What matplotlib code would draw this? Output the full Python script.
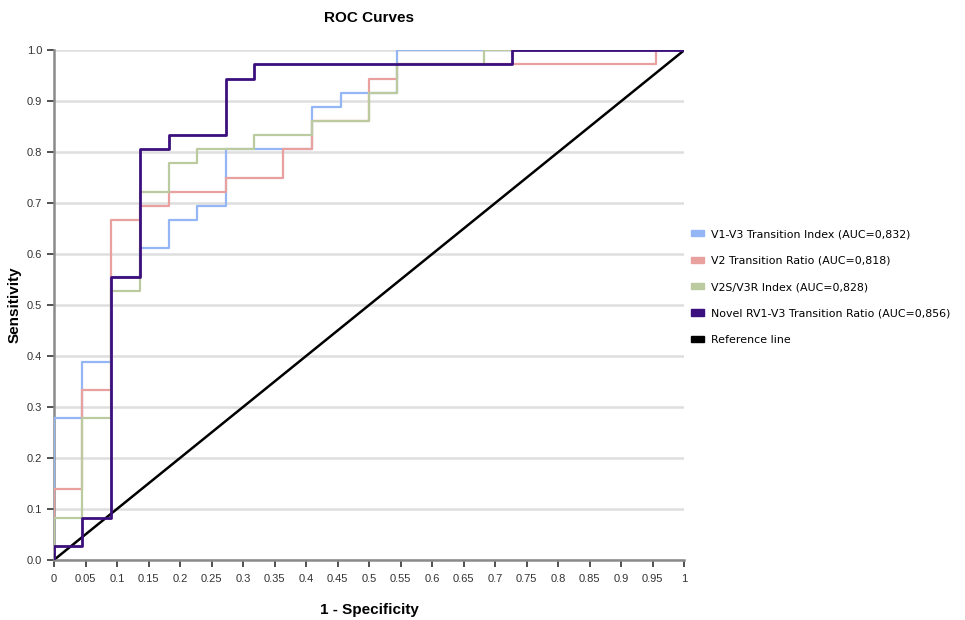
import matplotlib.pyplot as plt
from matplotlib.patches import Patch

plt.rcParams['font.family'] = ['Liberation Sans', 'DejaVu Sans']

# ROC staircase corners (1 - specificity, sensitivity)
v1v3_fpr = [0, 0, 0.045, 0.091, 0.136, 0.182, 0.227, 0.273, 0.409, 0.455, 0.545, 1.0]
v1v3_tpr = [0, 0.278, 0.389, 0.556, 0.611, 0.667, 0.694, 0.806, 0.889, 0.917, 1.0, 1.0]

v2_fpr = [0, 0, 0.045, 0.091, 0.136, 0.182, 0.273, 0.364, 0.409, 0.5, 0.545, 0.955, 1.0]
v2_tpr = [0, 0.139, 0.333, 0.667, 0.694, 0.722, 0.75, 0.806, 0.861, 0.944, 0.972, 1.0, 1.0]

v2s_fpr = [0, 0, 0.045, 0.091, 0.136, 0.182, 0.227, 0.318, 0.409, 0.5, 0.545, 0.682, 1.0]
v2s_tpr = [0, 0.083, 0.278, 0.528, 0.722, 0.778, 0.806, 0.833, 0.861, 0.917, 0.972, 1.0, 1.0]

rv1_fpr = [0, 0, 0.045, 0.091, 0.136, 0.182, 0.273, 0.318, 0.727, 1.0]
rv1_tpr = [0, 0.028, 0.083, 0.556, 0.806, 0.833, 0.944, 0.972, 1.0, 1.0]

labels = ["V1-V3 Transition Index (AUC=0,832)",
          "V2 Transition Ratio (AUC=0,818)",
          "V2S/V3R Index (AUC=0,828)",
          "Novel RV1-V3 Transition Ratio (AUC=0,856)",
          "Reference line"]
colors = ["#94b6f4", "#e9a19f", "#bccb9f", "#3b0f7d", "#000000"]

xticks = [i * 0.05 for i in range(21)]
xtick_labels = ["0", "0.05", "0.1", "0.15", "0.2", "0.25", "0.3", "0.35", "0.4", "0.45", "0.5",
                "0.55", "0.6", "0.65", "0.7", "0.75", "0.8", "0.85", "0.9", "0.95", "1"]
yticks = [i * 0.1 for i in range(11)]

fig = plt.figure(figsize=(9.65, 6.2), dpi=100)
ax = fig.add_axes([0.056, 0.097, 0.653, 0.822])

ax.plot(v1v3_fpr, v1v3_tpr, drawstyle='steps-post', color=colors[0], lw=1.6, zorder=3)
ax.plot(v2_fpr, v2_tpr, drawstyle='steps-post', color=colors[1], lw=1.6, zorder=3)
ax.plot(v2s_fpr, v2s_tpr, drawstyle='steps-post', color=colors[2], lw=1.6, zorder=3)
ax.plot(rv1_fpr, rv1_tpr, drawstyle='steps-post', color=colors[3], lw=2.0, zorder=4)
ax.plot([0, 1], [0, 1], color=colors[4], lw=1.8, zorder=2)

ax.set_xlim(0, 1)
ax.set_ylim(0, 1)
ax.set_xticks(xticks)
ax.set_xticklabels(xtick_labels)
ax.set_yticks(yticks)
ax.set_yticklabels([f"{v:.1f}" for v in yticks])
ax.tick_params(labelsize=8, colors='#333333', length=5, width=1.2, direction='out')
ax.tick_params(axis='x', pad=5)

ax.yaxis.grid(True, color='#dedede', lw=1.8)
ax.set_axisbelow(True)
for s in ['top', 'right']:
    ax.spines[s].set_visible(False)
for s in ['left', 'bottom']:
    ax.spines[s].set_color('#8a8a8a')
    ax.spines[s].set_linewidth(1.8)
    ax.spines[s].set_clip_on(False)

ax.set_title("ROC Curves", fontsize=11, fontweight='bold', pad=20)
ax.set_xlabel("1 - Specificity", fontsize=11, fontweight='bold', labelpad=14)
ax.set_ylabel("Sensitivity", fontsize=11, fontweight='bold', labelpad=4)

handles = [Patch(facecolor=c, edgecolor=c) for c in colors]
fig.legend(handles, labels, loc='center left', bbox_to_anchor=(0.706, 0.537),
           frameon=False, handlelength=1.2, handleheight=0.5,
           handletextpad=0.6, labelspacing=1.5,
           prop={'family': ['DejaVu Sans'], 'size': 7.9})

fig.savefig("out.png", dpi=100)
